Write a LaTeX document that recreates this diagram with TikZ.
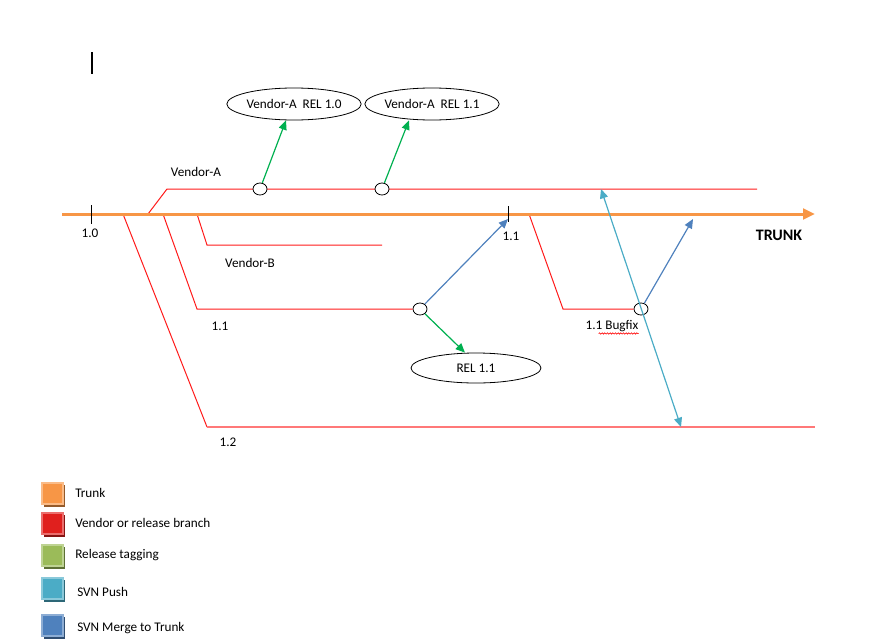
\documentclass[tikz,border=0pt]{standalone}
\usepackage{fontspec}
\setmainfont{Carlito}
\usetikzlibrary{shapes.geometric,arrows.meta,decorations.pathmorphing,calc}
\definecolor{trunkc}{HTML}{F79646}
\definecolor{branchc}{HTML}{FF1A1A}
\definecolor{branchl}{HTML}{FF7878}
\definecolor{tagc}{HTML}{00B050}
\definecolor{tagleg}{HTML}{9BBB59}
\definecolor{pushc}{HTML}{4BACC6}
\definecolor{mergec}{HTML}{4F81BD}
\definecolor{vendleg}{HTML}{E0201E}
\begin{document}
\begin{tikzpicture}[x=0.75pt,y=-0.75pt,
  font=\fontsize{9.9}{12}\selectfont,
  lbl/.style={inner sep=0pt},
  llbl/.style={inner sep=0pt,anchor=west},
  relbox/.style={ellipse,draw,line width=0.6pt,minimum width=96pt,minimum height=24pt,inner sep=0pt,fill=white},
  dot/.style={ellipse,draw,line width=0.6pt,fill=white,minimum width=10.5pt,minimum height=9pt,inner sep=0pt},
  branch/.style={draw=branchc,line width=0.75pt},
  trunkline/.style={draw=trunkc,line width=2.25pt,-{Triangle[length=9pt,width=8pt]}},
  tag/.style={draw=tagc,line width=0.9pt,-{Triangle[length=7pt,width=6pt]}},
  merge/.style={draw=mergec,line width=0.9pt,-{Triangle[length=7pt,width=6pt]}},
  push/.style={draw=pushc,line width=0.9pt,{Triangle[length=7pt,width=6pt]}-{Triangle[length=7pt,width=6pt]}},
  tick/.style={draw=black,line width=0.75pt},
  legshadow/.style={fill=#1!60!black},
  legbox/.style={fill=#1,draw=#1!65!white,line width=1pt}
]
\useasboundingbox (0,0) rectangle (873,639);

% text cursor
\draw[line width=1.5pt] (92,52) -- (92,74);

% branch coordinates
\coordinate (t0) at (62,214);
\coordinate (t1) at (815,214);
\coordinate (vaS) at (148,214);
\coordinate (vaK) at (167,189);
\coordinate (vaE) at (757,189);
\coordinate (b12S) at (123,214);
\coordinate (b12K) at (207,427);
\coordinate (b12E) at (815,427);
\coordinate (b11S) at (163,214);
\coordinate (b11K) at (197,309);
\coordinate (vbS) at (197,214);
\coordinate (vbK) at (207,245);
\coordinate (vbE) at (382,245);
\coordinate (bfS) at (529,214);
\coordinate (bfK) at (563,309);

% branches
\draw[branch] (vaS) -- (vaK) -- (vaE);
\draw[branch] (b12S) -- (b12K);
\draw[draw=branchl,line width=1.5pt] (b12K) -- (b12E);
\draw[branch] (vbS) -- (vbK) -- (vbE);

% circles
\node[dot] (c1) at (260,189) {};
\node[dot] (c2) at (382,189) {};
\node[dot] (c3) at (420,309) {};
\node[dot] (c4) at (641,309) {};

\draw[branch] (b11S) -- (b11K) -- (c3);
\draw[branch] (bfS) -- (bfK) -- (c4);

% trunk
\draw[trunkline] (t0) -- (t1);
\draw[tick] (91,205) -- (91,224);
\draw[tick] (508,206) -- (508,222);

% release ellipses
\node[relbox] (e1) at (294,104) {Vendor-A\ \ REL 1.0};
\node[relbox] (e2) at (432,104) {Vendor-A\ \ REL 1.1};
\node[relbox,minimum width=97.5pt,minimum height=22.5pt] (e3) at (476,368) {REL 1.1};

% tagging arrows
\draw[tag] (c1) -- ($(e1.south)+(-8,0)$);
\draw[tag] (c2) -- ($(e2.south)+(-23,0)$);
\draw[tag] (c3) -- ($(e3.north)+(-11,0)$);

% merge arrows
\coordinate (m1) at (508,219);
\coordinate (m2) at (693,219);
\draw[merge] (c3) -- (m1);
\draw[merge] (c4) -- (m2);

% push arrow
\coordinate (p1) at (601,189);
\coordinate (p2) at (681,427);
\draw[push] (p1) -- (p2);

% labels
\node[lbl] (lva) at (196,172) {Vendor-A};
\node[lbl] (l10) at (90,233) {1.0};
\node[lbl] (l11t) at (511,236) {1.1};
\node[lbl,font=\fontsize{12}{14}\selectfont\bfseries] (ltr) at (779,235) {TRUNK};
\node[lbl] (lvb) at (250,263) {Vendor-B};
\node[lbl] (l11) at (220,326) {1.1};
\node[lbl] (l12) at (228,442) {1.2};
\node[lbl] (lbf) at (612,326) {1.1 Bugfix};
\draw[draw=red,line width=0.45pt,decorate,decoration={snake,amplitude=0.5pt,segment length=2pt}]
  ($(lbf.south east)+(-40,1.5)$) -- ($(lbf.south east)+(0,1.5)$);

% legend
\foreach \yy/\cc/\tx/\xo/\ty in {494/trunkc/Trunk/75/493, 524/vendleg/Vendor or release branch/75/523, 556/tagleg/Release tagging/75/555, 589/pushc/SVN Push/77/592, 626/mergec/SVN Merge to Trunk/77/628}{
  \fill[legshadow=\cc] (44,\yy-9) rectangle (65,\yy+13);
  \draw[legbox=\cc] (42,\yy-11) rectangle (63,\yy+10);
  \node[llbl] (leg\yy) at (\xo,\ty) {\tx};
}
\end{tikzpicture}
\end{document}
